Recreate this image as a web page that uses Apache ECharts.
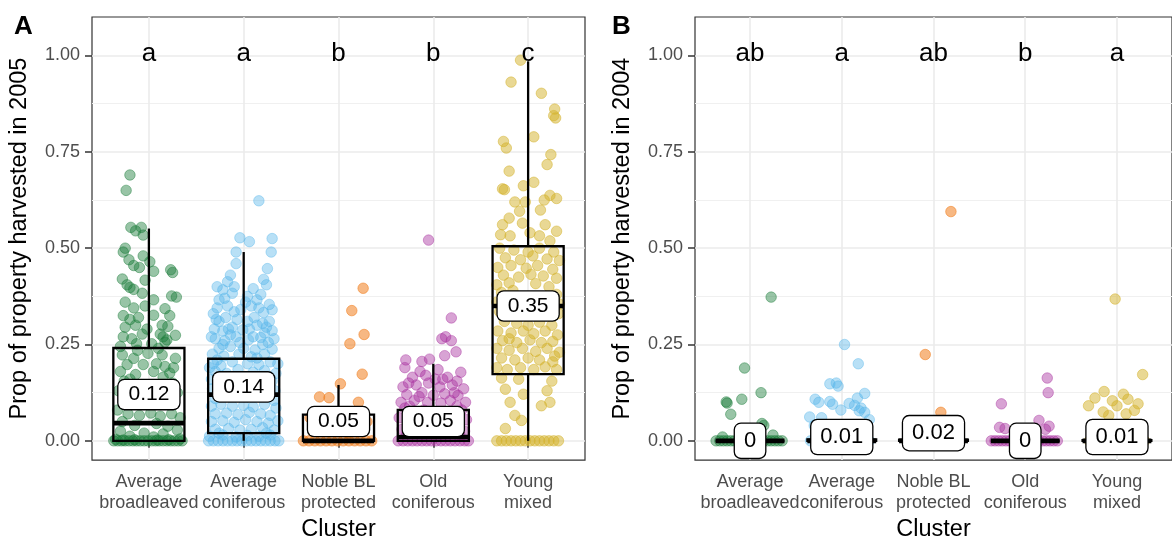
<!DOCTYPE html>
<html>
<head>
<meta charset="utf-8">
<script src="https://cdn.jsdelivr.net/npm/echarts@6/dist/echarts.min.js"></script>
<style>
html, body { margin: 0; padding: 0; background: #fff; }
#chart { width: 1172px; height: 547px; }
</style>
</head>
<body>
<div id="chart"></div>
<script>
var clusters = ['Average\nbroadleaved', 'Average\nconiferous', 'Noble BL\nprotected', 'Old\nconiferous', 'Young\nmixed'];
var clusterColors = ['rgba(26,125,58,0.45)', 'rgba(86,180,233,0.42)', 'rgba(240,125,30,0.55)', 'rgba(168,50,159,0.45)', 'rgba(212,178,42,0.5)'];
var yTicks = [0, 0.25, 0.5, 0.75, 1];
var yMinor = [0.125, 0.375, 0.625, 0.875];

// panel A (2005): jittered points as [offset from cluster, proportion]
var broadA = [[-0.20,0.69],[-0.24,0.65],[-0.19,0.554],[-0.08,0.554],[-0.14,0.545],[-0.06,0.534],[-0.25,0.50],[-0.27,0.49],
  [-0.21,0.47],[-0.06,0.48],[0.01,0.465],[-0.28,0.42],[-0.16,0.455],[-0.10,0.45],[0.23,0.444],[0.25,0.437],[-0.23,0.405],
  [-0.04,0.417],[0.05,0.44],[-0.16,0.393],[-0.07,0.383],[-0.20,0.398],[0.24,0.376],[0.29,0.373],[-0.25,0.36],[0.05,0.366],
  [-0.16,0.345],[-0.04,0.35],[0.17,0.343],[-0.27,0.325],[-0.20,0.315],[-0.11,0.32],[0.05,0.326],[0.22,0.325],[-0.25,0.295],
  [-0.14,0.30],[-0.02,0.29],[0.14,0.30],[0.20,0.297],[-0.27,0.27],[-0.18,0.265],[-0.07,0.277],[0.12,0.277],[0.28,0.274],
  [0.15,0.27],[0.19,0.262],[-0.13,0.252],[0.03,0.252],[0.17,0.256],[-0.28,0.223],[-0.16,0.214],[-0.01,0.227],[0.14,0.223],
  [0.28,0.214],[-0.23,0.198],[-0.06,0.198],[0.08,0.20],[0.17,0.193],[-0.30,0.18],[-0.14,0.172],[0.05,0.18],[0.22,0.176],
  [-0.26,0.155],[0.25,0.15],[-0.32,0.13],[0.30,0.125],[-0.33,0.08],[-0.22,0.07],[-0.10,0.066],[0.02,0.072],[0.12,0.064],
  [0.24,0.07],[0.33,0.06],[-0.28,0.05],[-0.15,0.04],[0.08,0.045],[0.20,0.038],[-0.30,0.025],[-0.05,0.02],[0.15,0.018],
  [0.30,0.028],[-0.20,0.012],[0.05,0.01],[-0.37,0],[-0.33,0],[-0.29,0],[-0.25,0],[-0.21,0],[-0.17,0],[-0.13,0],[-0.09,0],
  [-0.05,0],[-0.01,0],[0.03,0],[0.07,0],[0.11,0],[0.15,0],[0.19,0],[0.23,0],[0.27,0],[0.31,0],[0.35,0],[-0.35,0.004],
  [-0.15,0.003],[0.09,0.002],[0.33,0.005],[-0.27,0.002],[0.21,0.003],[-0.12,0.235],[0.1,0.24],[-0.3,0.245],[0.26,0.19],
  [-0.2,0.16],[0.15,0.165]];
var coniA = [[0.16,0.623],[-0.04,0.527],[0.06,0.517],[0.30,0.525],[-0.08,0.49],[0.29,0.49],[-0.08,0.46],[0.25,0.447],
  [-0.14,0.43],[-0.17,0.413],[0.21,0.419],[0.24,0.405],[-0.22,0.392],[-0.26,0.366],[-0.12,0.383],[0.04,0.375],[0.14,0.366],
  [0.27,0.354],[-0.28,0.345],[-0.17,0.35],[-0.03,0.341],[0.08,0.35],[0.21,0.333],[0.30,0.34],[-0.29,0.315],[-0.19,0.32],
  [-0.07,0.315],[0.11,0.32],[0.27,0.31],[-0.31,0.29],[-0.22,0.285],[-0.12,0.295],[-0.01,0.288],[0.14,0.30],[0.30,0.286],
  [0.22,0.28],[-0.30,0.265],[-0.20,0.26],[-0.08,0.27],[0.05,0.262],[0.18,0.268],[0.26,0.255],[-0.26,0.24],[-0.14,0.245],
  [0.00,0.24],[0.12,0.236],[0.30,0.238],[-0.33,0.225],[-0.21,0.22],[-0.05,0.225],[0.08,0.218],[0.22,0.225],[-0.32,0.20],
  [-0.24,0.195],[-0.12,0.205],[0.04,0.20],[0.16,0.198],[0.28,0.205],[-0.30,0.18],[-0.18,0.175],[-0.06,0.185],[0.10,0.178],
  [0.22,0.182],[0.34,0.175],[-0.34,0.16],[-0.26,0.15],[0.30,0.155],[-0.33,0.135],[0.33,0.13],[-0.30,0.11],[0.32,0.105],
  [-0.34,0.09],[-0.24,0.095],[-0.12,0.09],[0.00,0.092],[0.10,0.088],[0.22,0.095],[0.34,0.085],[-0.30,0.07],[-0.18,0.072],
  [-0.06,0.068],[0.06,0.074],[0.18,0.07],[0.28,0.066],[-0.34,0.05],[-0.22,0.052],[-0.10,0.048],[0.02,0.055],[0.14,0.05],
  [0.26,0.046],[0.36,0.052],[-0.30,0.03],[-0.16,0.032],[-0.04,0.028],[0.08,0.03],[0.20,0.034],[0.32,0.028],[-0.36,0.012],
  [-0.22,0.015],[-0.08,0.01],[0.04,0.014],[0.16,0.012],[0.28,0.015],[-0.37,0],[-0.32,0],[-0.27,0],[-0.22,0],[-0.17,0],
  [-0.12,0],[-0.07,0],[-0.02,0],[0.03,0],[0.08,0],[0.13,0],[0.18,0],[0.23,0],[0.28,0],[0.33,0],[0.37,0],
  [-0.28,0.40],[-0.10,0.40],[0.10,0.395],[-0.20,0.37],[0.02,0.36],[0.18,0.38],[-0.32,0.33],[-0.10,0.335],[0.16,0.345],
  [-0.26,0.31],[0.04,0.31],[0.20,0.305],[-0.16,0.29],[0.06,0.29],[0.24,0.295],[-0.34,0.27],[-0.14,0.275],[0.10,0.27],
  [0.32,0.265],[-0.22,0.25],[-0.04,0.255],[0.20,0.25],[-0.28,0.21],[0.14,0.215],[-0.36,0.19],[0.36,0.20],[-0.20,0.12],
  [0.22,0.12],[-0.26,0.02],[0.24,0.02]];
var nobleA = [[0.26,0.396],[0.14,0.338],[0.27,0.276],[0.12,0.252],[0.25,0.173],[0.02,0.148],[-0.20,0.114],[-0.10,0.112],
  [0.21,0.10],[-0.30,0.06],[0.30,0.05],[-0.15,0.03],[0.10,0.02],[-0.37,0],[-0.31,0],[-0.25,0],[-0.19,0],[-0.13,0],
  [-0.07,0],[-0.01,0],[0.05,0],[0.11,0],[0.17,0],[0.23,0],[0.29,0],[0.35,0]];
var oldA = [[-0.05,0.521],[0.19,0.319],[0.09,0.265],[0.19,0.26],[0.13,0.27],[0.24,0.231],[0.12,0.221],[-0.29,0.21],
  [-0.12,0.206],[-0.04,0.212],[-0.14,0.18],[0.29,0.178],[-0.22,0.165],[-0.08,0.17],[0.02,0.16],[0.15,0.165],[0.25,0.155],
  [-0.32,0.14],[-0.18,0.145],[-0.05,0.15],[0.07,0.14],[0.20,0.145],[0.32,0.135],[-0.28,0.12],[-0.12,0.125],[0.00,0.118],
  [0.12,0.122],[0.26,0.118],[-0.34,0.10],[-0.20,0.105],[-0.06,0.10],[0.08,0.098],[0.18,0.105],[0.34,0.10],[-0.30,0.085],
  [0.30,0.08],[-0.36,0.06],[0.35,0.055],[-0.33,0.03],[0.33,0.025],[-0.37,0],[-0.32,0],[-0.27,0],[-0.22,0],[-0.17,0],
  [-0.12,0],[-0.07,0],[-0.02,0],[0.03,0],[0.08,0],[0.13,0],[0.18,0],[0.23,0],[0.28,0],[0.33,0],[0.37,0],
  [-0.26,0.15],[0.10,0.16],[-0.15,0.115],[0.22,0.125],[-0.25,0.09],[0.25,0.09],[-0.10,0.08],[0.12,0.075],[-0.20,0.06],
  [0.20,0.05],[-0.28,0.02],[0.28,0.015],[-0.30,0.19],[0.05,0.185]];
var youngA = [[-0.08,0.988],[-0.18,0.931],[0.14,0.902],[0.28,0.861],[0.27,0.844],[0.29,0.838],[0.06,0.789],[-0.26,0.777],
  [-0.23,0.76],[0.24,0.743],[0.20,0.717],[-0.20,0.70],[-0.05,0.662],[0.06,0.671],[-0.27,0.654],[-0.25,0.652],[0.23,0.637],
  [0.30,0.629],[0.17,0.625],[-0.14,0.62],[-0.03,0.62],[0.13,0.599],[-0.09,0.596],[-0.20,0.578],[-0.27,0.561],[-0.06,0.565],
  [0.18,0.561],[0.30,0.544],[-0.29,0.535],[-0.19,0.532],[0.02,0.54],[0.12,0.532],[0.23,0.519],[-0.30,0.50],[-0.15,0.495],
  [0.00,0.49],[0.12,0.50],[0.27,0.49],[-0.24,0.475],[-0.08,0.47],[0.05,0.48],[0.20,0.472],[0.33,0.468],[-0.32,0.45],
  [-0.18,0.455],[-0.02,0.448],[0.10,0.455],[0.26,0.445],[-0.26,0.43],[-0.10,0.425],[0.03,0.432],[0.16,0.428],[0.30,0.422],
  [-0.33,0.405],[-0.20,0.41],[0.08,0.408],[0.22,0.40],[-0.28,0.385],[0.30,0.38],[-0.33,0.36],[0.33,0.355],[-0.30,0.335],
  [0.32,0.33],[-0.25,0.31],[-0.12,0.305],[0.00,0.30],[0.12,0.308],[0.25,0.30],[-0.32,0.285],[-0.18,0.28],[-0.05,0.285],
  [0.06,0.278],[0.18,0.285],[0.31,0.275],[-0.27,0.26],[-0.12,0.255],[0.02,0.262],[0.14,0.255],[0.26,0.258],[-0.33,0.24],
  [-0.20,0.235],[-0.06,0.24],[0.08,0.232],[0.20,0.24],[0.33,0.23],[-0.28,0.215],[-0.14,0.21],[0.00,0.215],[0.12,0.21],
  [0.26,0.205],[-0.33,0.19],[-0.22,0.185],[-0.08,0.19],[0.06,0.185],[0.18,0.192],[0.30,0.185],[-0.28,0.163],[-0.10,0.16],
  [0.25,0.155],[-0.24,0.134],[-0.05,0.121],[0.20,0.13],[-0.19,0.10],[0.14,0.091],[0.23,0.10],[-0.14,0.066],[-0.07,0.053],
  [-0.24,0.032],[-0.33,0],[-0.28,0],[-0.23,0],[-0.18,0],[-0.13,0],[-0.08,0],[-0.03,0],[0.02,0],[0.07,0],[0.12,0],[0.17,0],
  [0.22,0],[0.27,0],[0.32,0],[-0.16,0.39],[0.14,0.37],[-0.1,0.35],[0.2,0.34],[-0.2,0.265],[0.28,0.22]];

// panel B (2004)
var broadB = [[0.23,0.373],[-0.06,0.189],[0.12,0.125],[-0.26,0.101],[-0.25,0.098],[-0.09,0.108],[-0.21,0.069],[0.13,0.045],
  [0.15,0.04],[-0.30,0.01],[0.25,0.015],[-0.10,0.02],[-0.37,0],[-0.33,0],[-0.29,0],[-0.25,0],[-0.21,0],[-0.17,0],[-0.13,0],
  [-0.09,0],[-0.05,0],[-0.01,0],[0.03,0],[0.07,0],[0.11,0],[0.15,0],[0.19,0],[0.23,0],[0.27,0],[0.31,0],[0.35,0]];
var coniB = [[0.03,0.25],[0.18,0.20],[-0.13,0.148],[-0.06,0.15],[-0.04,0.142],[0.25,0.123],[0.17,0.111],[-0.29,0.108],
  [-0.25,0.10],[-0.13,0.102],[-0.10,0.095],[0.08,0.097],[0.14,0.092],[0.21,0.085],[0.25,0.074],[0.19,0.078],[-0.01,0.08],
  [-0.35,0.062],[-0.22,0.06],[0.30,0.055],[-0.30,0.04],[0.28,0.035],[-0.15,0.03],[-0.34,0],[-0.26,0],[-0.18,0],[-0.10,0],
  [0.06,0],[0.14,0],[0.22,0],[0.30,0]];
var nobleB = [[-0.09,0.224],[0.08,0.074],[0.19,0.595],[-0.20,0],[0.00,0],[0.15,0]];
var oldB = [[0.24,0.163],[0.25,0.125],[-0.26,0.096],[0.15,0.053],[-0.28,0.035],[-0.22,0.032],[0.26,0.038],[0.22,0.03],
  [-0.10,0.025],[0.05,0.03],[-0.37,0],[-0.33,0],[-0.29,0],[-0.25,0],[-0.21,0],[-0.17,0],[0.15,0],[0.19,0],[0.23,0],
  [0.27,0],[0.31,0],[0.35,0]];
var youngB = [[-0.02,0.368],[0.28,0.172],[-0.14,0.128],[-0.24,0.111],[-0.31,0.091],[-0.05,0.104],[0.00,0.091],[0.07,0.121],
  [0.12,0.108],[0.23,0.096],[0.19,0.079],[-0.09,0.066],[-0.15,0.075],[0.10,0.07],[-0.30,0],[0.30,0]];

// boxplot stats per cluster: [min, Q1, median, Q3, max]
var boxA = [[0, 0, 0.046, 0.241, 0.551], [0, 0.02, 0.12, 0.213, 0.49], [0, 0, 0, 0.068, 0.145], [0, 0, 0.01, 0.08, 0.2], [0, 0.173, 0.35, 0.505, 0.985]];
var boxB = [[0, 0, 0, 0, 0], [0, 0, 0, 0.004, 0.004], [0, 0, 0, 0.003, 0.003], [0, 0, 0, 0, 0], [0, 0, 0, 0.002, 0.002]];
var meanA = [0.12, 0.14, 0.05, 0.05, 0.35];
var meanB = [0, 0.01, 0.02, 0, 0.01];
var lettersA = ['a', 'a', 'b', 'b', 'c'];
var lettersB = ['ab', 'a', 'ab', 'b', 'a'];

var FONT = '"Liberation Sans", Arial, sans-serif';
var chart = echarts.init(document.getElementById('chart'));

function renderBox(params, api) {
    var x = api.value(0);
    var lo = api.coord([x, api.value(1)]);
    var q1 = api.coord([x, api.value(2)]);
    var md = api.coord([x, api.value(3)]);
    var q3 = api.coord([x, api.value(4)]);
    var hi = api.coord([x, api.value(5)]);
    var w = api.size([0.75, 0], [x, 0])[0];
    var left = q1[0] - w / 2;
    var st = {stroke: '#000', lineWidth: 2.3, fill: null};
    return {
        type: 'group',
        children: [
            {type: 'line', shape: {x1: hi[0], y1: hi[1], x2: q3[0], y2: q3[1]}, style: st},
            {type: 'line', shape: {x1: q1[0], y1: q1[1], x2: lo[0], y2: lo[1]}, style: st},
            {type: 'rect', shape: {x: left, y: q3[1], width: w, height: q1[1] - q3[1]}, style: st},
            {type: 'line', shape: {x1: left, y1: md[1], x2: left + w, y2: md[1]}, style: {stroke: '#000', lineWidth: 4.6}}
        ]
    };
}

function panelSeries(idx, groups, boxes, means, letters, labelFont, labelPad) {
    var out = [];
    groups.forEach(function (pts, i) {
        out.push({
            type: 'scatter', xAxisIndex: idx, yAxisIndex: idx * 2, z: 2, silent: true,
            symbolSize: 10.5,
            itemStyle: {color: clusterColors[i], borderColor: clusterColors[i], borderWidth: 1, opacity: 1},
            data: pts.map(function (p) { return [i + 1 + p[0], p[1]]; })
        });
    });
    out.push({
        type: 'custom', xAxisIndex: idx, yAxisIndex: idx * 2, z: 3, silent: true,
        renderItem: renderBox,
        data: boxes.map(function (b, i) { return [i + 1].concat(b); })
    });
    // mean labels
    out.push({
        type: 'scatter', xAxisIndex: idx, yAxisIndex: idx * 2, z: 4, silent: true,
        symbolSize: 1, itemStyle: {color: 'transparent', opacity: 1},
        label: {
            show: true, position: 'inside', fontFamily: FONT, fontSize: labelFont, color: '#000',
            backgroundColor: '#fff', borderColor: '#000', borderWidth: 1.3, borderRadius: 6, padding: labelPad,
            formatter: function (p) { return String(means[p.dataIndex]); }
        },
        data: means.map(function (m, i) { return [i + 1, m]; })
    });
    // significance letters
    out.push({
        type: 'scatter', xAxisIndex: idx, yAxisIndex: idx * 2, z: 4, silent: true,
        symbolSize: 1, itemStyle: {color: 'transparent', opacity: 1},
        label: {
            show: true, position: 'inside', fontFamily: FONT, fontSize: 26, color: '#000',
            formatter: function (p) { return letters[p.dataIndex]; }
        },
        data: letters.map(function (l, i) { return [i + 1, 1.005]; })
    });
    return out;
}

function xAxisFor(idx) {
    return {
        type: 'value', gridIndex: idx, min: 0.4, max: 5.6,
        name: 'Cluster', nameLocation: 'middle', nameGap: 57,
        nameTextStyle: {fontFamily: FONT, fontSize: 23.5, color: '#000'},
        axisLine: {show: false},
        axisTick: {show: true, length: 7, customValues: [1, 2, 3, 4, 5], lineStyle: {color: '#333', width: 1.5}},
        axisLabel: {
            customValues: [1, 2, 3, 4, 5], margin: 11, fontFamily: FONT, fontSize: 18, lineHeight: 21, color: '#4d4d4d',
            formatter: function (v) { return clusters[Math.round(v) - 1]; }
        },
        splitLine: {show: true, lineStyle: {color: '#ebebeb', width: 1.6}}
    };
}

function yAxesFor(idx, title) {
    return [{
        type: 'value', gridIndex: idx, min: -0.05, max: 1.1,
        name: title, nameLocation: 'middle', nameGap: 60,
        nameTextStyle: {fontFamily: FONT, fontSize: 23.5, color: '#000'},
        axisLine: {show: false},
        axisTick: {show: true, length: 7, customValues: yTicks, lineStyle: {color: '#333', width: 1.5}},
        axisLabel: {
            customValues: yTicks, margin: 12, fontFamily: FONT, fontSize: 18, color: '#4d4d4d',
            formatter: function (v) { return v.toFixed(2); }
        },
        splitLine: {show: true, lineStyle: {color: '#ebebeb', width: 1.6}}
    }, {
        type: 'value', gridIndex: idx, min: -0.05, max: 1.1,
        axisLine: {show: false},
        axisTick: {show: false, customValues: yMinor},
        axisLabel: {show: false},
        splitLine: {show: true, lineStyle: {color: '#f0f0f0', width: 1}}
    }];
}

var option = {
    animation: false,
    backgroundColor: '#fff',
    grid: [
        {left: 92, top: 17, width: 493, height: 453, show: true, borderColor: '#333', borderWidth: 1.2, backgroundColor: 'transparent'},
        {left: 695, top: 17, width: 492, height: 453, show: true, borderColor: '#333', borderWidth: 1.2, backgroundColor: 'transparent'}
    ],
    graphic: [
        {type: 'text', left: 14, top: 14, style: {text: 'A', fontFamily: FONT, fontSize: 26, fontWeight: 'bold', fill: '#000'}},
        {type: 'text', left: 612, top: 14, style: {text: 'B', fontFamily: FONT, fontSize: 26, fontWeight: 'bold', fill: '#000'}}
    ],
    xAxis: [xAxisFor(0), xAxisFor(1)],
    yAxis: yAxesFor(0, 'Prop of property harvested in 2005').concat(yAxesFor(1, 'Prop of property harvested in 2004')),
    series: panelSeries(0, [broadA, coniA, nobleA, oldA, youngA], boxA, meanA, lettersA, 21, [4, 10])
        .concat(panelSeries(1, [broadB, coniB, nobleB, oldB, youngB], boxB, meanB, lettersB, 22, [6, 9]))
};
chart.setOption(option);
</script>
</body>
</html>
